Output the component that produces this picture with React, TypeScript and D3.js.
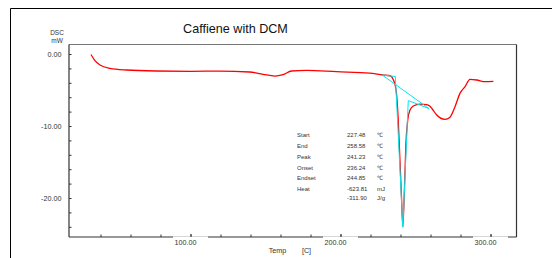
import React from 'react';
import * as d3 from 'd3';

// DSC trace: temperature [C] and heat flow [mW]
const temps = [33.3, 36, 39.3, 46, 57, 77, 100, 119, 139, 148, 156, 161.3, 167, 177, 197, 219, 228, 232.7, 234.9, 236.7, 237.8, 239.3, 240.4, 241.2, 242.2, 243.3, 244.5, 246, 248.2, 252.7, 257, 259.3, 260.6, 263.8, 269.3, 272.7, 276, 279.3, 282.7, 286, 290.5, 296, 301.6];
const dsc = [0, -0.86, -1.46, -1.92, -2.15, -2.29, -2.33, -2.3, -2.43, -2.75, -2.99, -2.8, -2.29, -2.2, -2.39, -2.6, -2.85, -2.95, -3.5, -4.9, -7.7, -14.7, -20.2, -23.9, -19.3, -12.3, -9.1, -7.7, -7.15, -6.9, -6.95, -7.2, -7.5, -8.4, -9.0, -8.7, -7.25, -5.4, -4.47, -3.45, -3.54, -3.78, -3.72];

// analysis construction lines (start, onset, peak, endset, end)
const markT = [227.48, 236.24, 241.23, 244.85, 258.58];
const markV = [-2.85, -3.06, -24.0, -6.4, -7.5];

const xTicks = [100, 200, 300];
const xMinor = d3.range(40, 301, 20);
const yTicks = [0, -10, -20];
const yMinor = d3.range(0, -25, -2);

const tableLabels = ['Start', 'End', 'Peak', 'Onset', 'Endset', 'Heat', ''];
const tableValues = ['227.48', '258.58', '241.23', '236.24', '244.85', '-623.81', '-311.90'];
const tableUnits = ['℃', '℃', '℃', '℃', '℃', 'mJ', 'J/g'];

const W = 552;
const H = 258;
const left = 69;
const right = 516.5;
const top = 44.5;
const bottom = 237;
const font = 'Liberation Sans, Arial, sans-serif';

const App = () => {
	const x = d3.scaleLinear().domain([100, 300]).range([191, 491]);
	const y = d3.scaleLinear().domain([0, -20]).range([54.5, 198.5]);
	const pts = temps.map((t, i) => [t, dsc[i]] as [number, number]);
	const line = d3.line<[number, number]>()
		.x((d) => x(d[0]))
		.y((d) => y(d[1]))
		.curve(d3.curveMonotoneX);
	const mk = markT.map((t, i) => [t, markV[i]] as [number, number]);
	const straight = d3.line<[number, number]>().x((d) => x(d[0])).y((d) => y(d[1]));
	const rowY = [135, 146, 156.7, 167.7, 178.3, 189, 197.7];

	return (
		<svg width={ W } height={ H } style={{ position: 'absolute', left: 0, top: 0, background: '#fff' }}>
			<rect x={ 0 } y={ 0 } width={ W } height={ H } fill="#fff"/>
			{/* outer frame */}
			<line x1={ 10.5 } y1={ 8.5 } x2={ W } y2={ 8.5 } stroke="#000"/>
			<line x1={ 10.5 } y1={ 8.5 } x2={ 10.5 } y2={ H } stroke="#000"/>

			<text x={ 235.5 } y={ 33 } fontFamily={ font } fontSize={ 12.6 } textAnchor="middle" fill="#111">Caffiene with DCM</text>
			<text x={ 57 } y={ 35 } fontFamily={ font } fontSize={ 6.5 } textAnchor="middle" fill="#333">DSC</text>
			<text x={ 57 } y={ 42.5 } fontFamily={ font } fontSize={ 6.5 } textAnchor="middle" fill="#333">mW</text>

			{/* plot frame */}
			<line x1={ left } y1={ top } x2={ right } y2={ top } stroke="#777" strokeWidth={ 1.2 }/>
			<line x1={ right } y1={ top } x2={ right } y2={ bottom } stroke="#333" strokeWidth={ 1.2 }/>
			<line x1={ left } y1={ top } x2={ left } y2={ bottom } stroke="#333" strokeWidth={ 1.2 }/>
			<line x1={ left } y1={ bottom } x2={ right } y2={ bottom } stroke="#333" strokeWidth={ 1.2 }/>

			{ yMinor.map((v) => (
				<line key={ `ym${ v }` } x1={ left } x2={ left + 2.5 } y1={ y(v) } y2={ y(v) } stroke="#333"/>
			)) }
			{ yTicks.map((v) => (
				<text key={ `yt${ v }` } x={ 61.5 } y={ y(v) + 2.5 } fontFamily={ font } fontSize={ 7.2 } textAnchor="end" fill="#333">{ v.toFixed(2) }</text>
			)) }
			{ xMinor.map((v) => (
				<line key={ `xm${ v }` } x1={ x(v) } x2={ x(v) } y1={ bottom } y2={ bottom - 2.5 } stroke="#333"/>
			)) }
			{ xTicks.map((v) => (
				<g key={ `xt${ v }` }>
					<rect x={ x(v) - 18 } y={ bottom - 0.6 } width={ 35 } height={ 9 } fill="#fff"/>
					<line x1={ x(v) } x2={ x(v) } y1={ bottom - 3 } y2={ bottom } stroke="#333"/>
					<text x={ x(v) - 5.5 } y={ bottom + 7.5 } fontFamily={ font } fontSize={ 7.2 } textAnchor="middle" fill="#333">{ v.toFixed(2) }</text>
				</g>
			)) }
			<text x={ 277.5 } y={ 252.5 } fontFamily={ font } fontSize={ 7.2 } textAnchor="middle" fill="#333">Temp</text>
			<text x={ 306.5 } y={ 252.5 } fontFamily={ font } fontSize={ 7.2 } textAnchor="middle" fill="#333">[C]</text>

			{/* analysis table */}
			{ tableLabels.map((l, i) => (
				<g key={ `tb${ i }` } fontFamily={ font } fontSize={ 6 } fill="#333">
					<text x={ 297 } y={ rowY[i] + 2 }>{ l }</text>
					<text x={ 347 } y={ rowY[i] + 2 }>{ tableValues[i] }</text>
					<text x={ 377 } y={ rowY[i] + 2 }>{ tableUnits[i] }</text>
				</g>
			)) }

			<path d={ line(pts) ?? '' } fill="none" stroke="#ff0000" strokeWidth={ 1.3 }/>
			<path d={ straight(mk) ?? '' } fill="none" stroke="#00e8f0" strokeWidth={ 1 }/>
			<path d={ straight([mk[0], mk[4]]) ?? '' } fill="none" stroke="#00e8f0" strokeWidth={ 1 }/>
		</svg>
	);
};

export default App;
